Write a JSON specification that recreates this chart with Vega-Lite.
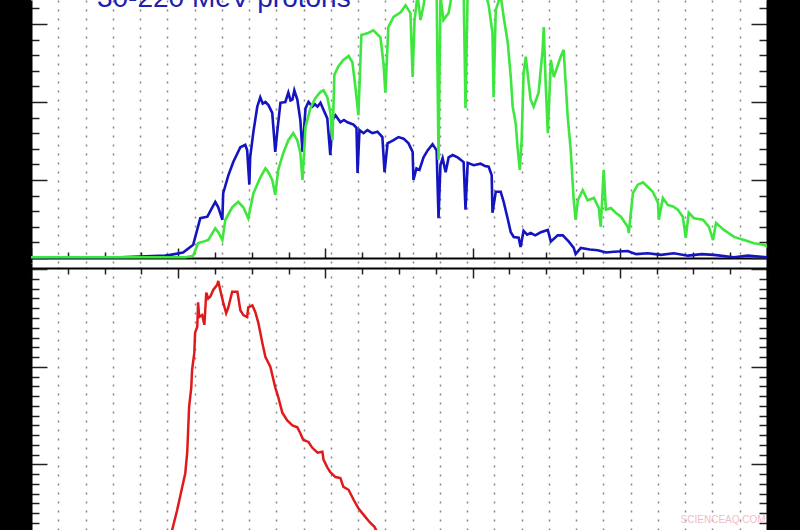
{
  "$schema": "https://vega.github.io/schema/vega-lite/v6.json",
  "description": "30-220 MeV protons, two stacked panels",
  "width": 736,
  "height": 530,
  "autosize": {"type": "none"},
  "padding": {"left": 31, "right": 33, "top": 0, "bottom": 0},
  "background": "black",
  "config": {
    "view": {"fill": "white", "stroke": null},
    "axis": {"labels": false, "domainColor": "#000", "domainWidth": 2, "tickColor": "#222", "tickWidth": 1.5, "grid": false}
  },
  "datasets": {
    "blue": [
      {"day": 0, "flux": 0.01}, {"day": 3.27, "flux": 0.01}, {"day": 4.92, "flux": 0.03}, {"day": 5.11, "flux": 0.04},
      {"day": 5.58, "flux": 0.07}, {"day": 5.95, "flux": 0.17}, {"day": 6.21, "flux": 0.51}, {"day": 6.47, "flux": 0.53},
      {"day": 6.65, "flux": 0.65}, {"day": 6.76, "flux": 0.72}, {"day": 6.87, "flux": 0.65}, {"day": 7.02, "flux": 0.49},
      {"day": 7.05, "flux": 0.83}, {"day": 7.24, "flux": 1.06}, {"day": 7.42, "flux": 1.23}, {"day": 7.68, "flux": 1.42},
      {"day": 7.86, "flux": 1.45}, {"day": 7.93, "flux": 1.38}, {"day": 8.01, "flux": 0.94}, {"day": 8.04, "flux": 1.29},
      {"day": 8.16, "flux": 1.62}, {"day": 8.3, "flux": 1.94}, {"day": 8.41, "flux": 2.06}, {"day": 8.5, "flux": 1.98},
      {"day": 8.6, "flux": 2.0}, {"day": 8.71, "flux": 1.96}, {"day": 8.85, "flux": 1.86}, {"day": 8.96, "flux": 1.36},
      {"day": 9.04, "flux": 1.64}, {"day": 9.15, "flux": 1.99}, {"day": 9.33, "flux": 2.0}, {"day": 9.44, "flux": 2.12},
      {"day": 9.52, "flux": 2.02}, {"day": 9.59, "flux": 2.03}, {"day": 9.66, "flux": 2.15}, {"day": 9.77, "flux": 2.03},
      {"day": 9.88, "flux": 1.77}, {"day": 9.96, "flux": 1.36}, {"day": 10.07, "flux": 1.92}, {"day": 10.18, "flux": 2.0},
      {"day": 10.32, "flux": 1.94}, {"day": 10.42, "flux": 1.97}, {"day": 10.51, "flux": 1.94}, {"day": 10.62, "flux": 1.99},
      {"day": 10.73, "flux": 1.9}, {"day": 10.87, "flux": 1.79}, {"day": 10.98, "flux": 1.32}, {"day": 11.06, "flux": 1.77},
      {"day": 11.17, "flux": 1.83}, {"day": 11.35, "flux": 1.74}, {"day": 11.48, "flux": 1.77}, {"day": 11.61, "flux": 1.74},
      {"day": 11.83, "flux": 1.71}, {"day": 11.94, "flux": 1.67}, {"day": 11.98, "flux": 1.09}, {"day": 12.05, "flux": 1.64},
      {"day": 12.2, "flux": 1.6}, {"day": 12.34, "flux": 1.64}, {"day": 12.52, "flux": 1.6}, {"day": 12.71, "flux": 1.62},
      {"day": 12.89, "flux": 1.55}, {"day": 12.97, "flux": 1.1}, {"day": 13.08, "flux": 1.47}, {"day": 13.3, "flux": 1.51},
      {"day": 13.48, "flux": 1.55}, {"day": 13.67, "flux": 1.53}, {"day": 13.85, "flux": 1.47}, {"day": 14.0, "flux": 1.36},
      {"day": 14.03, "flux": 1.0}, {"day": 14.14, "flux": 1.15}, {"day": 14.25, "flux": 1.13}, {"day": 14.4, "flux": 1.29},
      {"day": 14.55, "flux": 1.38}, {"day": 14.73, "flux": 1.46}, {"day": 14.88, "flux": 1.38}, {"day": 14.95, "flux": 0.51},
      {"day": 15.02, "flux": 1.19}, {"day": 15.1, "flux": 1.28}, {"day": 15.21, "flux": 1.1}, {"day": 15.32, "flux": 1.29},
      {"day": 15.47, "flux": 1.32}, {"day": 15.65, "flux": 1.29}, {"day": 15.87, "flux": 1.23}, {"day": 15.94, "flux": 0.62},
      {"day": 16.02, "flux": 1.22}, {"day": 16.24, "flux": 1.19}, {"day": 16.49, "flux": 1.21}, {"day": 16.65, "flux": 1.18},
      {"day": 16.79, "flux": 1.17}, {"day": 16.9, "flux": 1.06}, {"day": 16.93, "flux": 0.58}, {"day": 17.05, "flux": 0.85},
      {"day": 17.23, "flux": 0.85}, {"day": 17.34, "flux": 0.72}, {"day": 17.49, "flux": 0.5}, {"day": 17.6, "flux": 0.33},
      {"day": 17.71, "flux": 0.27}, {"day": 17.89, "flux": 0.26}, {"day": 17.96, "flux": 0.14}, {"day": 18.07, "flux": 0.35},
      {"day": 18.2, "flux": 0.3}, {"day": 18.33, "flux": 0.32}, {"day": 18.5, "flux": 0.29}, {"day": 18.7, "flux": 0.33},
      {"day": 18.96, "flux": 0.36}, {"day": 19.07, "flux": 0.21}, {"day": 19.32, "flux": 0.29}, {"day": 19.51, "flux": 0.29},
      {"day": 19.73, "flux": 0.21}, {"day": 19.91, "flux": 0.13}, {"day": 19.98, "flux": 0.05}, {"day": 20.17, "flux": 0.13},
      {"day": 20.5, "flux": 0.11}, {"day": 20.79, "flux": 0.1}, {"day": 21.1, "flux": 0.07}, {"day": 21.38, "flux": 0.08},
      {"day": 21.89, "flux": 0.09}, {"day": 22.2, "flux": 0.05}, {"day": 22.63, "flux": 0.06}, {"day": 23.11, "flux": 0.04},
      {"day": 23.58, "flux": 0.06}, {"day": 24.1, "flux": 0.03}, {"day": 24.6, "flux": 0.05}, {"day": 25.05, "flux": 0.04},
      {"day": 25.79, "flux": 0.01}, {"day": 26.3, "flux": 0.03}, {"day": 27, "flux": 0.01}
    ],
    "green": [
      {"day": 0, "flux": 0.01}, {"day": 3.27, "flux": 0.01}, {"day": 5.66, "flux": 0.01}, {"day": 5.95, "flux": 0.03},
      {"day": 6.13, "flux": 0.19}, {"day": 6.32, "flux": 0.21}, {"day": 6.5, "flux": 0.23}, {"day": 6.76, "flux": 0.38},
      {"day": 6.87, "flux": 0.33}, {"day": 7.02, "flux": 0.23}, {"day": 7.13, "flux": 0.49}, {"day": 7.38, "flux": 0.65},
      {"day": 7.6, "flux": 0.72}, {"day": 7.79, "flux": 0.65}, {"day": 7.97, "flux": 0.51}, {"day": 8.16, "flux": 0.83},
      {"day": 8.41, "flux": 1.03}, {"day": 8.6, "flux": 1.15}, {"day": 8.71, "flux": 1.1}, {"day": 8.85, "flux": 1.0},
      {"day": 8.96, "flux": 0.81}, {"day": 9.07, "flux": 1.13}, {"day": 9.26, "flux": 1.35}, {"day": 9.44, "flux": 1.51},
      {"day": 9.62, "flux": 1.6}, {"day": 9.77, "flux": 1.51}, {"day": 9.88, "flux": 1.35}, {"day": 9.96, "flux": 1.0},
      {"day": 10.07, "flux": 1.68}, {"day": 10.25, "flux": 1.92}, {"day": 10.43, "flux": 2.05}, {"day": 10.62, "flux": 2.13},
      {"day": 10.73, "flux": 2.15}, {"day": 10.87, "flux": 2.06}, {"day": 10.98, "flux": 1.87}, {"day": 11.06, "flux": 1.51},
      {"day": 11.13, "flux": 2.35}, {"day": 11.28, "flux": 2.46}, {"day": 11.46, "flux": 2.54}, {"day": 11.65, "flux": 2.59},
      {"day": 11.79, "flux": 2.51}, {"day": 11.9, "flux": 2.19}, {"day": 12.01, "flux": 1.83}, {"day": 12.12, "flux": 2.86},
      {"day": 12.34, "flux": 2.88}, {"day": 12.56, "flux": 2.92}, {"day": 12.82, "flux": 2.83}, {"day": 12.93, "flux": 2.5},
      {"day": 13.0, "flux": 2.12}, {"day": 13.11, "flux": 2.96}, {"day": 13.3, "flux": 3.09}, {"day": 13.56, "flux": 3.15},
      {"day": 13.74, "flux": 3.24}, {"day": 13.92, "flux": 3.14}, {"day": 14.0, "flux": 2.32}, {"day": 14.07, "flux": 3.05},
      {"day": 14.18, "flux": 3.37}, {"day": 14.29, "flux": 3.05}, {"day": 14.4, "flux": 3.24}, {"day": 14.55, "flux": 3.56},
      {"day": 14.77, "flux": 3.63}, {"day": 14.88, "flux": 3.44}, {"day": 14.95, "flux": 1.26}, {"day": 15.02, "flux": 3.37},
      {"day": 15.13, "flux": 3.05}, {"day": 15.32, "flux": 3.14}, {"day": 15.5, "flux": 3.5}, {"day": 15.76, "flux": 3.56},
      {"day": 15.87, "flux": 3.44}, {"day": 15.94, "flux": 1.92}, {"day": 16.02, "flux": 3.44}, {"day": 16.31, "flux": 3.63},
      {"day": 16.6, "flux": 3.5}, {"day": 16.79, "flux": 3.24}, {"day": 16.93, "flux": 2.88}, {"day": 16.97, "flux": 2.06},
      {"day": 17.05, "flux": 3.18}, {"day": 17.23, "flux": 3.37}, {"day": 17.34, "flux": 3.09}, {"day": 17.49, "flux": 2.76},
      {"day": 17.6, "flux": 2.32}, {"day": 17.67, "flux": 1.94}, {"day": 17.78, "flux": 1.73}, {"day": 17.85, "flux": 1.42},
      {"day": 17.93, "flux": 1.13}, {"day": 18.0, "flux": 1.51}, {"day": 18.07, "flux": 2.37}, {"day": 18.15, "flux": 2.58},
      {"day": 18.26, "flux": 2.24}, {"day": 18.33, "flux": 2.03}, {"day": 18.44, "flux": 1.94}, {"day": 18.62, "flux": 2.12},
      {"day": 18.77, "flux": 2.67}, {"day": 18.81, "flux": 2.96}, {"day": 18.88, "flux": 2.24}, {"day": 18.96, "flux": 1.6},
      {"day": 19.07, "flux": 2.54}, {"day": 19.18, "flux": 2.32}, {"day": 19.43, "flux": 2.58}, {"day": 19.54, "flux": 2.67},
      {"day": 19.69, "flux": 1.81}, {"day": 19.8, "flux": 1.38}, {"day": 19.91, "flux": 0.74}, {"day": 19.98, "flux": 0.49},
      {"day": 20.06, "flux": 0.74}, {"day": 20.24, "flux": 0.87}, {"day": 20.42, "flux": 0.74}, {"day": 20.65, "flux": 0.77},
      {"day": 20.83, "flux": 0.64}, {"day": 20.9, "flux": 0.4}, {"day": 21.01, "flux": 1.13}, {"day": 21.09, "flux": 0.62},
      {"day": 21.27, "flux": 0.64}, {"day": 21.45, "flux": 0.58}, {"day": 21.64, "flux": 0.53}, {"day": 21.89, "flux": 0.4},
      {"day": 21.93, "flux": 0.32}, {"day": 22.08, "flux": 0.83}, {"day": 22.26, "flux": 0.94}, {"day": 22.45, "flux": 0.97},
      {"day": 22.63, "flux": 0.91}, {"day": 22.81, "flux": 0.85}, {"day": 23.0, "flux": 0.71}, {"day": 23.03, "flux": 0.49},
      {"day": 23.18, "flux": 0.77}, {"day": 23.36, "flux": 0.68}, {"day": 23.55, "flux": 0.66}, {"day": 23.73, "flux": 0.62},
      {"day": 23.91, "flux": 0.53}, {"day": 24.02, "flux": 0.26}, {"day": 24.13, "flux": 0.58}, {"day": 24.32, "flux": 0.51},
      {"day": 24.65, "flux": 0.49}, {"day": 24.87, "flux": 0.4}, {"day": 25.02, "flux": 0.23}, {"day": 25.13, "flux": 0.45},
      {"day": 25.42, "flux": 0.36}, {"day": 25.79, "flux": 0.27}, {"day": 26.16, "flux": 0.23}, {"day": 26.52, "flux": 0.19},
      {"day": 26.89, "flux": 0.17}, {"day": 27, "flux": 0.15}
    ],
    "red": [
      {"day": 5.03, "flux": 0.17}, {"day": 5.18, "flux": 0.33}, {"day": 5.36, "flux": 0.53}, {"day": 5.55, "flux": 0.77},
      {"day": 5.66, "flux": 0.91}, {"day": 5.73, "flux": 1.12}, {"day": 5.77, "flux": 1.38}, {"day": 5.8, "flux": 1.59},
      {"day": 5.88, "flux": 1.79}, {"day": 5.91, "flux": 1.97}, {"day": 5.99, "flux": 2.14}, {"day": 6.02, "flux": 2.35},
      {"day": 6.1, "flux": 2.41}, {"day": 6.13, "flux": 2.66}, {"day": 6.17, "flux": 2.51}, {"day": 6.28, "flux": 2.53},
      {"day": 6.36, "flux": 2.43}, {"day": 6.43, "flux": 2.76}, {"day": 6.5, "flux": 2.7}, {"day": 6.58, "flux": 2.72},
      {"day": 6.69, "flux": 2.79}, {"day": 6.83, "flux": 2.84}, {"day": 6.87, "flux": 2.88}, {"day": 6.94, "flux": 2.79},
      {"day": 7.05, "flux": 2.66}, {"day": 7.16, "flux": 2.55}, {"day": 7.24, "flux": 2.61}, {"day": 7.38, "flux": 2.77},
      {"day": 7.57, "flux": 2.77}, {"day": 7.6, "flux": 2.72}, {"day": 7.68, "flux": 2.58}, {"day": 7.79, "flux": 2.53},
      {"day": 7.93, "flux": 2.51}, {"day": 7.97, "flux": 2.61}, {"day": 8.12, "flux": 2.63}, {"day": 8.23, "flux": 2.56},
      {"day": 8.34, "flux": 2.45}, {"day": 8.49, "flux": 2.24}, {"day": 8.6, "flux": 2.1}, {"day": 8.78, "flux": 2.0},
      {"day": 8.96, "flux": 1.79}, {"day": 9.07, "flux": 1.69}, {"day": 9.22, "flux": 1.53}, {"day": 9.4, "flux": 1.45},
      {"day": 9.59, "flux": 1.4}, {"day": 9.77, "flux": 1.38}, {"day": 9.88, "flux": 1.32}, {"day": 9.99, "flux": 1.25},
      {"day": 10.18, "flux": 1.23}, {"day": 10.32, "flux": 1.17}, {"day": 10.51, "flux": 1.12}, {"day": 10.69, "flux": 1.13},
      {"day": 10.73, "flux": 1.05}, {"day": 10.87, "flux": 0.97}, {"day": 10.98, "flux": 0.92}, {"day": 11.17, "flux": 0.87},
      {"day": 11.35, "flux": 0.86}, {"day": 11.46, "flux": 0.77}, {"day": 11.65, "flux": 0.74}, {"day": 11.83, "flux": 0.64},
      {"day": 12.01, "flux": 0.55}, {"day": 12.27, "flux": 0.46}, {"day": 12.45, "flux": 0.4}, {"day": 12.6, "flux": 0.36},
      {"day": 12.75, "flux": 0.28}, {"day": 13.0, "flux": 0.17}
    ]
  },
  "resolve": {"scale": {"y": "independent"}, "axis": {"x": "independent", "y": "independent"}},
  "layer": [
    {
      "data": {"name": "blue"},
      "mark": {"type": "line", "color": "#1414c0", "strokeWidth": 2.6, "clip": true},
      "encoding": {
        "x": {
          "field": "day", "type": "quantitative",
          "scale": {"domain": [0, 27], "nice": false, "zero": false},
          "axis": {"orient": "bottom", "title": null, "grid": true, "ticks": false, "domain": false,
                   "values": [1,2,3,4,5,6,7,8,9,10,11,12,13,14,15,16,17,18,19,20,21,22,23,24,25,26],
                   "gridColor": "#858585", "gridDash": [2, 7], "gridWidth": 1.5}
        },
        "y": {
          "field": "flux", "type": "quantitative",
          "scale": {"domain": [-0.0641, 3.3077], "range": [263, 0], "nice": false, "zero": false},
          "axis": {"orient": "left", "title": null,
                   "values": [0,0.2,0.4,0.6,0.8,1,1.2,1.4,1.6,1.8,2,2.2,2.4,2.6,2.8,3,3.2],
                   "tickSize": {"condition": {"test": "datum.value % 1 === 0", "value": -16}, "value": -8}}
        }
      }
    },
    {
      "data": {"name": "green"},
      "mark": {"type": "line", "color": "#3ee63e", "strokeWidth": 2.6, "clip": true},
      "encoding": {
        "x": {
          "field": "day", "type": "quantitative",
          "scale": {"domain": [0, 27], "nice": false, "zero": false},
          "axis": {"orient": "bottom", "title": null, "offset": -272,
                   "values": [0,1.35,2.7,4.05,5.4,6.75,8.1,9.45,10.8,12.15,13.5,14.85,16.2,17.55,18.9,20.25,21.6,22.95,24.3,25.65,27],
                   "tickSize": {"condition": {"test": "indexof([0,5.4,10.8,16.2,21.6,27], datum.value) >= 0", "value": -10}, "value": -6}}
        },
        "y": {
          "field": "flux", "type": "quantitative",
          "scale": {"domain": [-0.0641, 3.3077], "range": [263, 0], "nice": false, "zero": false},
          "axis": {"orient": "right", "title": null,
                   "values": [0,0.2,0.4,0.6,0.8,1,1.2,1.4,1.6,1.8,2,2.2,2.4,2.6,2.8,3,3.2],
                   "tickSize": {"condition": {"test": "datum.value % 1 === 0", "value": -16}, "value": -8}}
        }
      }
    },
    {
      "data": {"values": [{"label": "30-220 MeV protons"}]},
      "mark": {"type": "text", "align": "left", "baseline": "alphabetic", "font": "Liberation Sans", "fontSize": 28, "color": "#2020b0", "clip": true},
      "encoding": {
        "x": {
          "datum": 2.42, "type": "quantitative",
          "scale": {"domain": [0, 27], "nice": false, "zero": false},
          "axis": {"orient": "top", "title": null, "grid": true, "ticks": false, "domain": false,
                   "values": [1,2,3,4,5,6,7,8,9,10,11,12,13,14,15,16,17,18,19,20,21,22,23,24,25,26],
                   "gridColor": "#858585", "gridDash": [2, 7], "gridWidth": 1.5}
        },
        "y": {"datum": 3.218, "type": "quantitative", "scale": {"domain": [-0.0641, 3.3077], "range": [263, 0], "nice": false, "zero": false}, "axis": null},
        "text": {"field": "label"}
      }
    },
    {
      "data": {"name": "red"},
      "mark": {"type": "line", "color": "#e01a1a", "strokeWidth": 2.5, "clip": true},
      "encoding": {
        "x": {
          "field": "day", "type": "quantitative",
          "scale": {"domain": [0, 27], "nice": false, "zero": false},
          "axis": {"orient": "top", "title": null, "offset": -268,
                   "values": [0,1.35,2.7,4.05,5.4,6.75,8.1,9.45,10.8,12.15,13.5,14.85,16.2,17.55,18.9,20.25,21.6,22.95,24.3,25.65,27],
                   "tickSize": {"condition": {"test": "indexof([0,5.4,10.8,16.2,21.6,27], datum.value) >= 0", "value": -10}, "value": -6}}
        },
        "y": {
          "field": "flux", "type": "quantitative",
          "scale": {"domain": [0.3279, 3.0635], "range": [530, 263], "nice": false, "zero": false},
          "axis": {"orient": "left", "title": null,
                   "values": [0.4,0.5,0.6,0.7,0.8,0.9,1,1.1,1.2,1.3,1.4,1.5,1.6,1.7,1.8,1.9,2,2.1,2.2,2.3,2.4,2.5,2.6,2.7,2.8,2.9,3],
                   "tickSize": {"condition": {"test": "datum.value % 1 === 0", "value": -16}, "value": -8}}
        }
      }
    },
    {
      "data": {"values": [{"label": "SCIENCEAQ.COM"}]},
      "mark": {"type": "text", "align": "right", "baseline": "alphabetic", "font": "Liberation Sans", "fontSize": 10, "color": "#efbcc6", "clip": true},
      "encoding": {
        "x": {"datum": 26.95, "type": "quantitative", "scale": {"domain": [0, 27], "nice": false, "zero": false}, "axis": null},
        "y": {
          "datum": 0.4, "type": "quantitative",
          "scale": {"domain": [0.3279, 3.0635], "range": [530, 263], "nice": false, "zero": false},
          "axis": {"orient": "right", "title": null,
                   "values": [0.4,0.5,0.6,0.7,0.8,0.9,1,1.1,1.2,1.3,1.4,1.5,1.6,1.7,1.8,1.9,2,2.1,2.2,2.3,2.4,2.5,2.6,2.7,2.8,2.9,3],
                   "tickSize": {"condition": {"test": "datum.value % 1 === 0", "value": -16}, "value": -8}}
        },
        "text": {"field": "label"}
      }
    }
  ]
}
